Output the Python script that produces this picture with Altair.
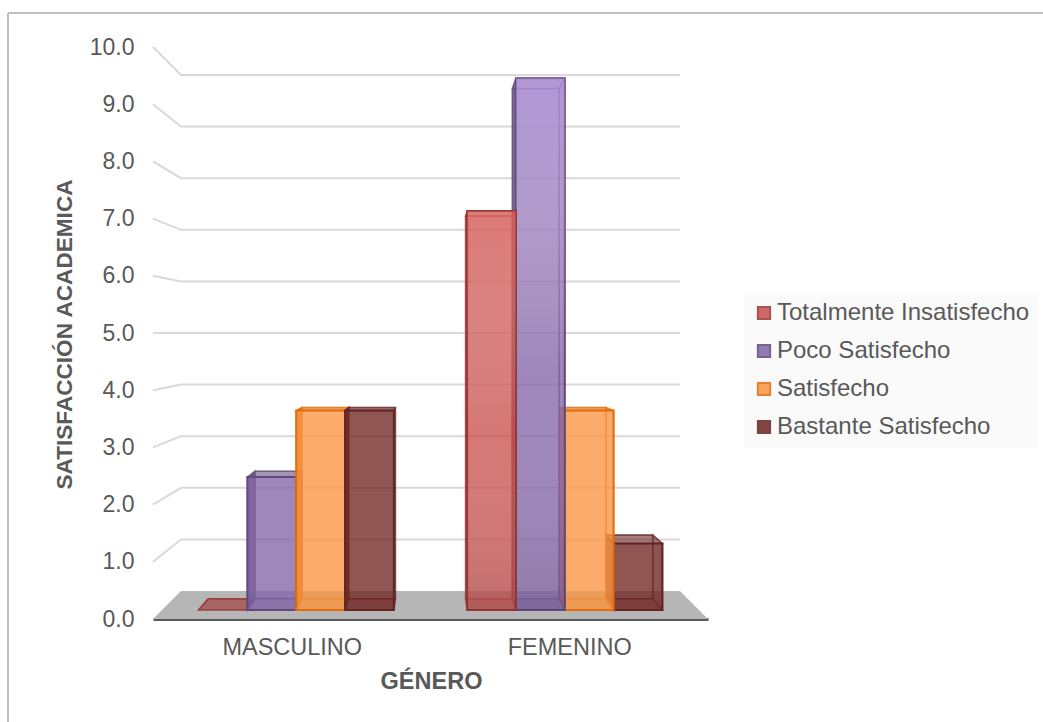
import altair as alt
import pandas as pd

# Survey results: percentage of students per gender and satisfaction level
genders = ["MASCULINO", "FEMENINO"]
levels = ["Totalmente Insatisfecho", "Poco Satisfecho", "Satisfecho", "Bastante Satisfecho"]
masculino = [0.0, 2.4, 3.6, 3.6]
femenino = [7.2, 9.6, 3.6, 1.2]
series_values = [masculino, femenino]
y_ticks = [0, 1, 2, 3, 4, 5, 6, 7, 8, 9, 10]

fill_colors = ["#c9504d", "#8264a8", "#fa9440", "#6f2523"]
edge_colors = ["#953735", "#604a7b", "#e46c0a", "#632523"]
top_tints = ["rgba(240,125,120,0.3)", "rgba(195,165,240,0.5)", "rgba(255,255,255,0)", "rgba(255,255,255,0)"]

FONT = "Liberation Sans"
TEXT = "#595959"

# Simple perspective model of the 3D column chart.
# depth 0 = front plane, depth 1 = back wall.
CENTER_X = 1.0
SHRINK_X = 0.1009
SHRINK_Y = 0.098
LIFT_Y = 0.49
EYE_LEVEL = 5
BAR_FRONT, BAR_BACK = 0.32, 0.72
GAP = 1.5


def project(x, v, d):
    return CENTER_X + (x - CENTER_X) * (1 - SHRINK_X * d), v * (1 - SHRINK_Y * d) + LIFT_Y * d


def polygon_rows(points, **extra):
    """Turn a convex polygon into upper and lower envelopes for an area mark."""
    n = len(points)
    rows = []
    for px in sorted({p[0] for p in points}):
        hits = []
        for i in range(n):
            (ax, ay), (bx, by) = points[i], points[(i + 1) % n]
            if min(ax, bx) <= px <= max(ax, bx):
                if ax == bx:
                    hits += [ay, by]
                else:
                    hits.append(ay + (by - ay) * (px - ax) / (bx - ax))
        rows.append({"x": px, "y": max(hits), "y2": min(hits), **extra})
    return rows


# Gridlines along the left and back walls
grid_rows = []
for v in y_ticks[1:]:
    for x, d in [(0, 0), (0, 1), (2, 1)]:
        px, pv = project(x, v, d)
        grid_rows.append({"x": px, "y": pv, "level": v})

floor_rows = polygon_rows([project(0, 0, 0), project(0, 0, 1), project(2, 0, 1), project(2, 0, 0)], bar="floor")

x_enc = alt.X(
    "x:Q",
    scale=alt.Scale(domain=[0, 2], nice=False, zero=False),
    axis=alt.Axis(
        values=[0.5, 1.5],
        labelExpr=f"datum.value < 1 ? '{genders[0]}' : '{genders[1]}'",
        title="GÉNERO",
        titleFont=FONT,
        titleFontSize=23.5,
        titleFontWeight="bold",
        titleColor=TEXT,
        titleX=278,
        titleY=50,
        titleAnchor="middle",
        titleAlign="center",
        ticks=False,
        grid=False,
        domainColor="#595959",
        domainWidth=3,
        labelFont=FONT,
        labelFontSize=23.5,
        labelColor=TEXT,
        labelPadding=16,
        labelAngle=0,
    ),
)
y_enc = alt.Y(
    "y:Q",
    scale=alt.Scale(domain=[0, 10], nice=False, zero=False),
    axis=alt.Axis(
        values=y_ticks,
        format=".1f",
        title="SATISFACCIÓN ACADEMICA",
        titleFont=FONT,
        titleFontSize=22.6,
        titleFontWeight="bold",
        titleColor=TEXT,
        titleX=-89,
        titleY=287,
        titleAngle=270,
        titleAlign="center",
        titleBaseline="middle",
        ticks=False,
        grid=False,
        domain=False,
        labelFont=FONT,
        labelFontSize=23,
        labelColor=TEXT,
        labelPadding=19,
    ),
)
x2 = alt.X2("x2:Q")
y2 = alt.Y2("y2:Q")

legend = alt.Legend(
    title=None,
    orient="none",
    legendX=591,
    legendY=246,
    padding=8,
    fillColor="#fafafa",
    symbolType="square",
    symbolSize=150,
    symbolStrokeWidth=2,
    symbolOpacity=0.85,
    labelFont=FONT,
    labelFontSize=24,
    labelColor=TEXT,
    labelOffset=1,
    rowPadding=14,
    labelLimit=300,
)

grid = alt.Chart(pd.DataFrame(grid_rows)).mark_line(color="#d9d9d9", strokeWidth=2).encode(
    x=x_enc, y=y_enc, detail="level:N", order=alt.Order("x:Q")
)
floor = alt.Chart(pd.DataFrame(floor_rows)).mark_area(color="#b6b6b6", orient="vertical").encode(x=x_enc, y=y_enc, y2=y2)


def column_layers(c, i, value):
    """Side faces, front face and optional fade for a single column."""
    slot = 1 / (len(levels) + GAP)
    x0 = c + (GAP / 2 + i) * slot
    x1 = x0 + slot
    lf0, lf1 = project(x0, 0, BAR_FRONT), project(x0, value, BAR_FRONT)
    rf0, rf1 = project(x1, 0, BAR_FRONT), project(x1, value, BAR_FRONT)
    lb0, lb1 = project(x0, 0, BAR_BACK), project(x0, value, BAR_BACK)
    rb0, rb1 = project(x1, 0, BAR_BACK), project(x1, value, BAR_BACK)

    fill, edge = fill_colors[i], edge_colors[i]
    # The top face reads darker when seen from above, nearly clear from below
    top_style = (edge, 0.5) if value < EYE_LEVEL else (fill, 0.12)
    shapes = [
        ("back", [lb0, lb1, rb1, rb0], fill, 0.2),
        ("bottom", [lf0, lb0, rb0, rf0], fill, 0.35),
        ("left", [lf0, lf1, lb1, lb0], edge, 0.8),
        ("right", [rf0, rf1, rb1, rb0], fill, 0.25),
        ("top", [lf1, lb1, rb1, rf1], top_style[0], top_style[1]),
    ]
    rows = []
    for name, points, colour, alpha in shapes:
        rows += polygon_rows(points, face=name, fill=colour, edge=edge, alpha=alpha)

    layers = [
        alt.Chart(pd.DataFrame(rows))
        .mark_area(orient="vertical", strokeWidth=1.5, strokeOpacity=0.55)
        .encode(
            x=x_enc,
            y=y_enc,
            y2=y2,
            detail="face:N",
            fill=alt.Fill("fill:N", scale=None),
            stroke=alt.Stroke("edge:N", scale=None),
            fillOpacity=alt.FillOpacity("alpha:N", scale=None),
        )
    ]
    if value > 0:
        front_row = pd.DataFrame([{"x": lf0[0], "x2": rf0[0], "y": lf0[1], "y2": lf1[1], "level": levels[i]}])
        layers.append(
            alt.Chart(front_row)
            .mark_bar(fillOpacity=0.72, strokeWidth=2)
            .encode(
                x=x_enc,
                x2=x2,
                y=y_enc,
                y2=y2,
                fill=alt.Fill("level:N", scale=alt.Scale(domain=levels, range=fill_colors), legend=legend),
                stroke=alt.Stroke("level:N", scale=alt.Scale(domain=levels, range=edge_colors), legend=legend),
            )
        )
        # Tall columns fade from a lighter top to a darker foot
        if value > EYE_LEVEL:
            layers.append(
                alt.Chart(front_row)
                .mark_bar(
                    color=alt.Gradient(
                        gradient="linear",
                        x1=0, y1=0, x2=0, y2=1,
                        stops=[
                            alt.GradientStop(color=top_tints[i], offset=0),
                            alt.GradientStop(color="rgba(255,255,255,0)", offset=0.55),
                            alt.GradientStop(color="rgba(40,30,50,0.12)", offset=1),
                        ],
                    )
                )
                .encode(x=x_enc, x2=x2, y=y_enc, y2=y2)
            )
    return layers


# Columns nearer the chart centre are painted last on each side
column_layer_list = []
for c, values in enumerate(series_values):
    order = range(len(values)) if c == 0 else reversed(range(len(values)))
    for i in order:
        column_layer_list += column_layers(c, i, values[i])

# Outer frame of the chart object
frame_data = pd.DataFrame({"edge": ["top"]})
frame_top = alt.Chart(frame_data).mark_rule(color="#bfbfbf", strokeWidth=2).encode(
    x=alt.value(-145), x2=alt.value(890), y=alt.value(-34)
)
frame_left = alt.Chart(frame_data).mark_rule(color="#bfbfbf", strokeWidth=2).encode(
    x=alt.value(-145), y=alt.value(-34), y2=alt.value(675)
)

chart = (
    alt.layer(frame_top, frame_left, grid, floor, *column_layer_list)
    .properties(
        width=555,
        height=572,
        background="white",
        padding={"left": 153, "top": 47, "right": 335, "bottom": 103},
        autosize=alt.AutoSizeParams(type="none"),
    )
    .configure_view(stroke=None)
)

chart.save("out.html", embed_options={"renderer": "svg", "actions": False})
